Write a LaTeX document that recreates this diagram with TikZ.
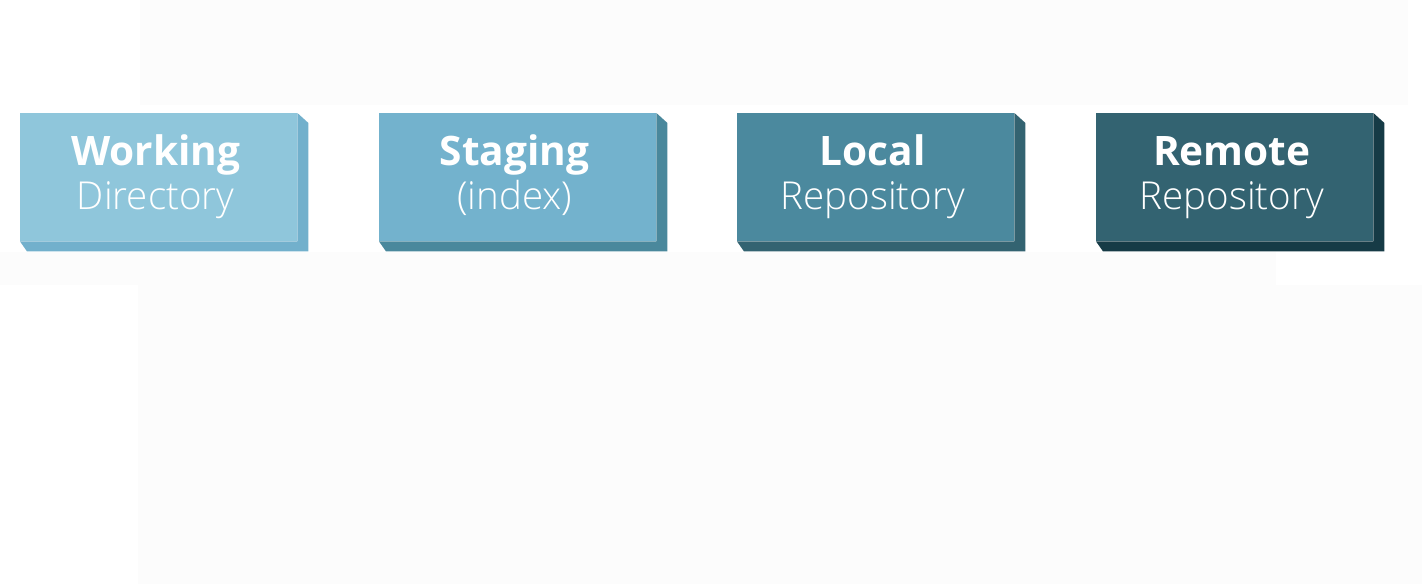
\documentclass[tikz,border=0pt]{standalone}
\usepackage{fontspec}
\setmainfont{Open Sans}
\newfontfamily\lightfont{Open Sans Light}
\usetikzlibrary{calc}
\definecolor{bgA}{HTML}{FCFCFC}
\definecolor{fA}{HTML}{8FC6DB}\definecolor{sA}{HTML}{72B0CC}
\definecolor{fB}{HTML}{73B2CD}\definecolor{sB}{HTML}{4A889C}
\definecolor{fC}{HTML}{4B899E}\definecolor{sC}{HTML}{336371}
\definecolor{fD}{HTML}{336371}\definecolor{sD}{HTML}{163B46}
\tikzset{
  front/.style={rectangle, inner sep=0pt, minimum width=277pt, minimum height=128pt, anchor=north west},
  ttl/.style={anchor=base, text=white, inner sep=0pt, font=\bfseries\fontsize{40.6}{44}\selectfont},
  sub/.style={anchor=base, text=white, inner sep=0pt, font=\lightfont\fontsize{38.5}{44}\selectfont},
}
\newcommand{\mybox}[6]{%
  \node[front, fill=#2] (#1) at (#4,113) {};
  \fill[#3] (#1.north east) -- ++(11,10) -- ($(#1.south east)+(11,10)$) -- ($(#1.south west)+(7,10)$) -- (#1.south west) -- (#1.south east) -- cycle;
  \node[ttl] (#1t) at ($(#1.north)+(-3,52)$) {#5};
  \node[sub] (#1s) at ($(#1.north)+(-3,96)$) {#6};
}
\begin{document}
\begin{tikzpicture}[x=1pt,y=-1pt]
\useasboundingbox (0,0) rectangle (1422,584);
\fill[white] (0,0) rectangle (1422,584);
\fill[bgA] (140,0) rectangle (1408,105);
\fill[bgA] (0,252) rectangle (1276,285);
\fill[bgA] (138,285) rectangle (1422,584);
\mybox{wd}{fA}{sA}{20}{Working}{Directory}
\mybox{st}{fB}{sB}{379}{Staging}{(index)}
\mybox{lr}{fC}{sC}{737}{Local}{Repository}
\mybox{rr}{fD}{sD}{1096}{Remote}{Repository}
\end{tikzpicture}
\end{document}
